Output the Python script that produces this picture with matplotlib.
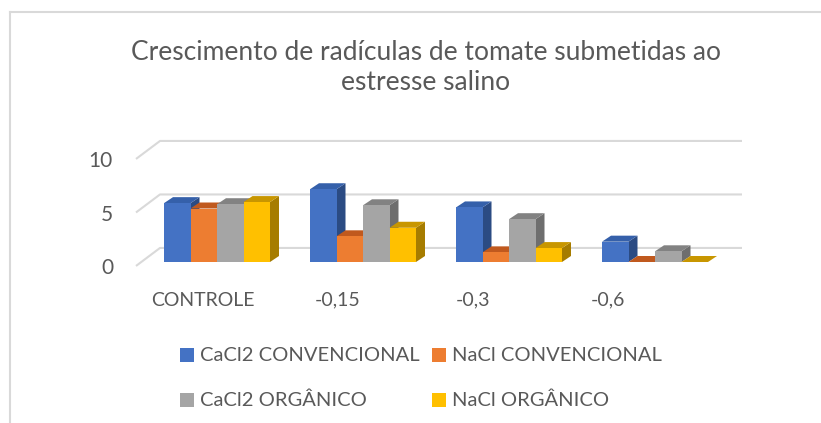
import matplotlib.pyplot as plt
from matplotlib.patches import Polygon, Rectangle

categories = ["CONTROLE", "-0,15", "-0,3", "-0,6"]
series = ["CaCl2 CONVENCIONAL", "NaCl CONVENCIONAL", "CaCl2 ORGÂNICO", "NaCl ORGÂNICO"]
cacl2_conv = [5.5, 6.8, 5.1, 1.9]
nacl_conv = [5.0, 2.4, 0.9, 0.0]
cacl2_org = [5.4, 5.3, 4.0, 1.0]
nacl_org = [5.6, 3.2, 1.3, 0.0]
yticks = [0, 5, 10]

values = [cacl2_conv, nacl_conv, cacl2_org, nacl_org]
front_col = ["#4472C4", "#ED7D31", "#A5A5A5", "#FFC000"]
top_col = ["#3560AA", "#C0591E", "#828282", "#C89600"]
side_col = ["#2B4B83", "#A34B17", "#6E6E6E", "#A67C00"]

W, H = 821, 423
PX_X, PX_Y = 146.0, 10.7     # pixels per category / per unit
X0, Y0 = 217.0, 262.0        # pixel of category 0, value 0 (bar front plane)

fig = plt.figure(figsize=(W / 100, H / 100), dpi=100)
ax = fig.add_axes([0, 0, 1, 1])
ax.set_xlim(-X0 / PX_X, (W - X0) / PX_X)
ax.set_ylim((Y0 - H) / PX_Y, Y0 / PX_Y)
ax.axis("off")

# depth offsets (data units)
fdx, fdy = 24 / PX_X, 18 / PX_Y      # whole floor depth
bdx, bdy = 9 / PX_X, 6 / PX_Y        # bar depth
front = 0.22                          # bar front face position inside floor
bw = 26.5 / PX_X

grid_c = "#D9D9D9"
x_left = (136 - X0) / PX_X
x_right = (742 - X0) / PX_X
for t in yticks:
    fx, fy = x_left, t - front * fdy
    bx, by = fx + fdx, fy + fdy
    ax.plot([fx, bx, x_right], [fy, by, by], color=grid_c, lw=1.5, zorder=1,
            solid_capstyle="butt")
    ax.text((113 - X0) / PX_X, fy - 0.2, str(t), ha="right", va="center",
            fontsize=15, color="#595959", family="Lato")

for i in range(len(categories)):
    for j in range(len(series)):
        v = values[j][i]
        x = i + (j - 1.5) * bw
        xl, xr = x - bw / 2, x + bw / 2
        z = 2 + i * 10 + j
        # side face
        ax.add_patch(Polygon([(xr, 0), (xr + bdx, bdy), (xr + bdx, v + bdy), (xr, v)],
                             closed=True, facecolor=side_col[j], edgecolor="none", zorder=z))
        # top face
        ax.add_patch(Polygon([(xl, v), (xr, v), (xr + bdx, v + bdy), (xl + bdx, v + bdy)],
                             closed=True, facecolor=top_col[j], edgecolor="none", zorder=z))
        if v > 0:
            ax.bar(x, v, width=bw, color=front_col[j], zorder=z)

lab_step = 135 / PX_X
lab_x0 = (203 - X0) / PX_X
for i, c in enumerate(categories):
    ax.text(lab_x0 + i * lab_step, (Y0 - 300) / PX_Y, c, ha="center", va="center",
            fontsize=14, color="#595959", family="Lato")

fig.text(426 / W, 1 - 52 / H, "Crescimento de radículas de tomate submetidas ao",
         ha="center", va="center", fontsize=19, color="#595959", family="Lato")
fig.text(426 / W, 1 - 83 / H, "estresse salino",
         ha="center", va="center", fontsize=19, color="#595959", family="Lato")

# legend
leg_pos = [(180, 355), (432, 355), (180, 400), (432, 400)]
for j, name in enumerate(series):
    px, py = leg_pos[j]
    fig.add_artist(Rectangle((px / W, 1 - (py + 7) / H), 14 / W, 14 / H,
                             transform=fig.transFigure, facecolor=front_col[j],
                             edgecolor="none"))
    fig.text((px + 20) / W, 1 - py / H, name, ha="left", va="center",
             fontsize=14.5, color="#595959", family="Lato")

# chart frame
fig.add_artist(plt.Line2D([10 / W, 10 / W], [0, 1 - 12 / H], transform=fig.transFigure,
                          color=grid_c, lw=1.5))
fig.add_artist(plt.Line2D([10 / W, 1], [1 - 12 / H, 1 - 12 / H], transform=fig.transFigure,
                          color=grid_c, lw=1.5))

fig.savefig("out.png", dpi=100, facecolor="white")
